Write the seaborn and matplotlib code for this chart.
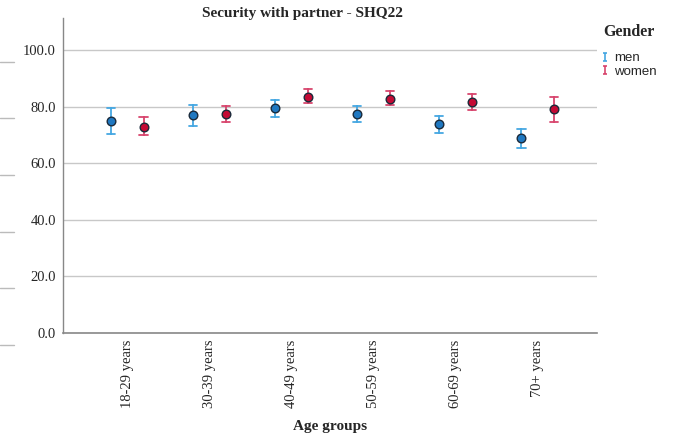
import numpy as np
import pandas as pd
import seaborn as sns
import matplotlib
matplotlib.use("Agg")
import matplotlib.pyplot as plt
from matplotlib.lines import Line2D
from matplotlib.path import Path

# ---- data ----
age_groups = ["18-29 years", "30-39 years", "40-49 years", "50-59 years", "60-69 years", "70+ years"]
genders = ["men", "women"]
men_mean = [74.9, 77.0, 79.5, 77.4, 73.9, 68.9]
men_low = [70.3, 73.1, 76.3, 74.6, 70.7, 65.4]
men_high = [79.5, 80.6, 82.3, 80.2, 76.7, 72.1]
women_mean = [72.8, 77.4, 83.4, 82.7, 81.6, 79.2]
women_low = [70.0, 74.6, 81.3, 80.6, 78.8, 74.6]
women_high = [76.3, 80.2, 86.2, 85.5, 84.5, 83.4]
y_ticks = [0, 20, 40, 60, 80, 100]

rows = []
for g, means, lows, highs in [("men", men_mean, men_low, men_high),
                              ("women", women_mean, women_low, women_high)]:
    for a, m, lo, hi in zip(age_groups, means, lows, highs):
        for v in (lo, m, hi):
            rows.append({"Age groups": a, "Gender": g, "value": v})
df = pd.DataFrame(rows)

dot_colors = {"men": "#1f78c1", "women": "#c40a35"}
bar_colors = {"men": "#45a7e2", "women": "#d8456d"}

sns.set_theme(style="white")
serif = ["Liberation Serif", "DejaVu Serif"]
sans = ["Liberation Sans", "DejaVu Sans"]

fig = plt.figure(figsize=(6.81, 4.41), dpi=100)
ax = fig.add_axes([63 / 681, 1 - 333 / 441, (597 - 63) / 681, (333 - 18) / 441])

sns.pointplot(data=df, x="Age groups", y="value", hue="Gender", order=age_groups,
              hue_order=genders, estimator=np.median,
              errorbar=lambda v: (np.min(v), np.max(v)),
              dodge=0.4, linestyle="none", markers="o", palette=dot_colors,
              capsize=0.1, err_kws={"linewidth": 1.3},
              markersize=6.2, markeredgewidth=1.0, ax=ax, legend=False)

# recolor error bars lighter, dark edges on dots
dot_rgb = {g: matplotlib.colors.to_rgb(c) for g, c in dot_colors.items()}
for ln in ax.lines:
    c = matplotlib.colors.to_rgb(ln.get_color())
    for g, rgb in dot_rgb.items():
        if np.allclose(c, rgb, atol=0.02):
            if ln.get_marker() in ("o",):
                ln.set_markeredgecolor("#1a2a3a")
                ln.set_zorder(5)
            else:
                ln.set_color(bar_colors[g])
for coll in ax.collections:
    coll.set_edgecolor("#1a2a3a")
    coll.set_zorder(5)

ax.set_ylim(0, 111.3)
ax.set_xlim(-0.78, 5.72)
ax.set_yticks(y_ticks)
ax.set_yticklabels([f"{t:.1f}" for t in y_ticks], fontfamily=serif, fontsize=10.5)
ax.set_xticks(range(len(age_groups)))
ax.set_xticklabels(age_groups, rotation=90, fontfamily=serif, fontsize=10.5)
ax.tick_params(axis="both", length=0, pad=5)
ax.yaxis.grid(True, color="#c8c8c8", linewidth=1.0)
ax.set_axisbelow(True)
ax.set_ylabel("")
ax.set_xlabel("Age groups", fontfamily=serif, fontweight="bold", fontsize=11, labelpad=8)
for s in ["top", "right"]:
    ax.spines[s].set_visible(False)
ax.spines["left"].set_color("#888888")
ax.spines["bottom"].set_color("#888888")
ax.spines["left"].set_linewidth(1.0)
ax.spines["bottom"].set_linewidth(1.2)

fig.text(302 / 681, 1 - 14 / 441, "Security with partner - SHQ22", ha="center", va="center",
         fontfamily=serif, fontweight="bold", fontsize=11)

# legend with capped-bar glyphs
ibar = Path([(-0.5, 1), (0.5, 1), (0, 1), (0, -1), (-0.5, -1), (0.5, -1)],
            [Path.MOVETO, Path.LINETO, Path.MOVETO, Path.LINETO, Path.MOVETO, Path.LINETO])
handles = [Line2D([], [], linestyle="none", marker=ibar, markersize=6.3, markeredgewidth=1.2,
                  color=bar_colors[g], markerfacecolor="none") for g in genders]
fig.text(603 / 681, 1 - 32 / 441, "Gender", ha="left", va="center",
         fontfamily=serif, fontweight="bold", fontsize=11.5)
leg = fig.legend(handles, genders, loc="upper left", bbox_to_anchor=(592 / 681, 1 - 43 / 441),
                 frameon=False, prop={"family": sans, "size": 9.5},
                 handlelength=0.6, handletextpad=0.35, labelspacing=0.1, borderpad=0.2)

# faint line stubs at the left edge, as in the reference image
for yp in [62, 118, 175, 232, 288, 345]:
    fig.add_artist(Line2D([0, 14 / 681], [1 - yp / 441] * 2, color="#bbbbbb", linewidth=1.0))

fig.savefig("out.png", dpi=100)
